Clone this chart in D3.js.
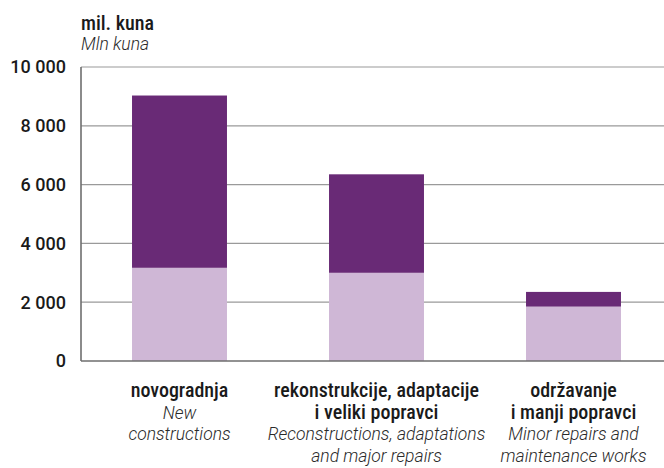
<!DOCTYPE html>
<html lang="hr">
<head>
  <meta charset="UTF-8" />
  <title>Građevinski radovi</title>
  <style>
    body {
      margin: 0;
      background-color: #fff;
    }

    svg {
      display: block;
      font-family: Roboto, "Liberation Sans", sans-serif;
    }

    .grid line {
      stroke: #9a9a9a;
      stroke-width: 1.2px;
    }

    .tick-label {
      font-size: 18px;
      font-weight: 500;
      fill: #1a1a1a;
    }

    .cat-hr {
      font-size: 20px;
      font-weight: 500;
      font-stretch: condensed;
      fill: #1a1a1a;
    }

    .cat-en {
      font-size: 17.5px;
      font-weight: 300;
      font-style: italic;
      fill: #2a2a2a;
    }
  </style>
</head>
<body>
  <svg width="664" height="468"></svg>

  <script src="https://d3js.org/d3.v7.min.js"></script>
  <script>
    // categories: Croatian label lines + English label lines
    const categories = ["novogradnja", "rekonstrukcije", "odrzavanje"];
    const labelsHr = [
      ["novogradnja"],
      ["rekonstrukcije, adaptacije", "i veliki popravci"],
      ["održavanje", "i manji popravci"]
    ];
    const labelsEn = [
      ["New", "constructions"],
      ["Reconstructions, adaptations", "and major repairs"],
      ["Minor repairs and", "maintenance works"]
    ];

    // stacked values, mil. kuna
    const lowerValues = [3170, 3000, 1850];
    const upperValues = [5860, 3350, 500];

    const yTicks = [0, 2000, 4000, 6000, 8000, 10000];

    const colors = ["#cfb7d6", "#692a76"];

    const svg = d3.select("svg");
    const width = 664;
    const height = 468;
    const margin = { top: 67, bottom: 107, left: 81 };

    const x = d3.scaleBand()
      .domain(categories)
      .range([margin.left, 672])
      .paddingInner(0.518)
      .paddingOuter(0.259);

    const y = d3.scaleLinear()
      .domain([0, 10000])
      .range([height - margin.bottom, margin.top]);

    const fmt = v => d3.format(",")(v).replace(/,/g, " ");

    // gridlines
    svg.append("g")
      .attr("class", "grid")
      .selectAll("line")
      .data(yTicks.slice(1))
      .join("line")
      .attr("x1", margin.left)
      .attr("x2", width)
      .attr("y1", d => y(d))
      .attr("y2", d => y(d));

    // stacked bars
    const rows = categories.map((c, i) => ({ cat: c, lower: lowerValues[i], upper: upperValues[i] }));
    const series = d3.stack().keys(["lower", "upper"])(rows);

    svg.append("g")
      .selectAll("g")
      .data(series)
      .join("g")
      .attr("fill", (d, i) => colors[i])
      .selectAll("rect")
      .data(d => d)
      .join("rect")
      .attr("x", d => x(d.data.cat))
      .attr("width", x.bandwidth())
      .attr("y", d => y(d[1]))
      .attr("height", d => y(d[0]) - y(d[1]));

    // axis frame: left line and baseline
    svg.append("line")
      .attr("x1", margin.left).attr("x2", margin.left)
      .attr("y1", y(10000)).attr("y2", y(0))
      .attr("stroke", "#6e6e6e").attr("stroke-width", 1.6);

    svg.append("line")
      .attr("x1", margin.left).attr("x2", width)
      .attr("y1", y(0)).attr("y2", y(0))
      .attr("stroke", "#6e6e6e").attr("stroke-width", 1.6);

    // y tick labels
    svg.append("g")
      .selectAll("text")
      .data(yTicks)
      .join("text")
      .attr("class", "tick-label")
      .attr("x", 66)
      .attr("y", d => y(d))
      .attr("dy", "0.36em")
      .attr("text-anchor", "end")
      .text(fmt);

    // unit titles
    svg.append("text")
      .attr("class", "cat-hr")
      .attr("x", 81).attr("y", 30)
      .text("mil. kuna");
    svg.append("text")
      .attr("class", "cat-en")
      .attr("x", 81).attr("y", 50)
      .text("Mln kuna");

    // category labels
    const lineGap = 21.6;
    const labels = svg.append("g")
      .selectAll("text")
      .data(categories)
      .join("text")
      .attr("text-anchor", "middle")
      .attr("x", d => x(d) + x.bandwidth() / 2)
      .attr("y", 397);

    labels.each(function(d, i) {
      const t = d3.select(this);
      const cx = x(d) + x.bandwidth() / 2;
      labelsHr[i].forEach((s, j) => {
        t.append("tspan")
          .attr("class", "cat-hr")
          .attr("x", cx)
          .attr("dy", j === 0 ? 0 : lineGap)
          .text(s);
      });
      labelsEn[i].forEach(s => {
        t.append("tspan")
          .attr("class", "cat-en")
          .attr("x", cx)
          .attr("dy", lineGap)
          .text(s);
      });
    });
  </script>
</body>
</html>
